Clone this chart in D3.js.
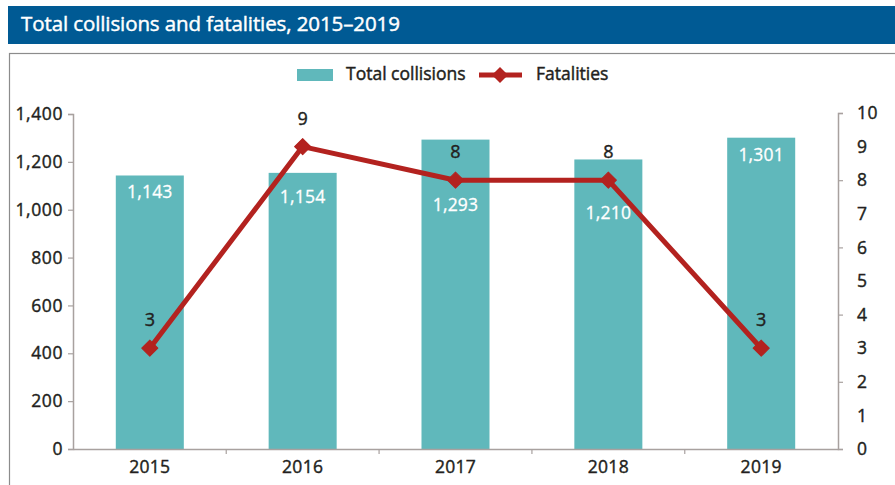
<!DOCTYPE html>
<html><head><meta charset="utf-8">
<script src="https://cdn.jsdelivr.net/npm/d3@7"></script>
<style>
html,body{margin:0;padding:0;background:#fff;}
svg{display:block;font-family:"Open Sans",sans-serif;}
</style></head>
<body><svg id="c" width="895" height="485"></svg>
<script>
const years = ["2015","2016","2017","2018","2019"];
const collisions = [1143,1154,1293,1210,1301];
const fatalities = [3,9,8,8,3];
const leftTicks = [0,200,400,600,800,1000,1200,1400];
const rightTicks = [0,1,2,3,4,5,6,7,8,9,10];
const title = "Total collisions and fatalities, 2015\u20132019";

const svg = d3.select("#c");
const teal = "#60b8bb", red = "#b3221f", ink = "#231f20", axisCol = "#a8a19f";

// title bar
svg.append("rect").attr("x",8).attr("y",6).attr("width",887).attr("height",38).attr("fill","#005a94");
svg.append("text").attr("x",21).attr("y",31).attr("fill","#fff").attr("font-size",20.5)
  .attr("stroke","#fff").attr("stroke-width",0.45).attr("letter-spacing",-0.1).text(title);
// frame
svg.append("rect").attr("x",9.5).attr("y",53.5).attr("width",900).attr("height",450)
  .attr("fill","none").attr("stroke","#8c8c8c").attr("stroke-width",1.2);

const x = d3.scaleBand().domain(years).range([73,838]).paddingInner(0.555).paddingOuter(0.28);
const yL = d3.scaleLinear().domain([0,1400]).range([449,114]);
const yR = d3.scaleLinear().domain([0,10]).range([449,113]);

// bars
svg.append("g").selectAll("rect").data(years).join("rect")
  .attr("x",d=>x(d)).attr("width",x.bandwidth())
  .attr("y",(d,i)=>yL(collisions[i])).attr("height",(d,i)=>yL(0)-yL(collisions[i]))
  .attr("fill",teal);

// axes
const gL = svg.append("g").attr("transform","translate(73,0)")
  .call(d3.axisLeft(yL).tickValues(leftTicks).tickSize(5).tickPadding(5).tickFormat(d3.format(",")));
const gR = svg.append("g").attr("transform","translate(838,0)")
  .call(d3.axisRight(yR).tickValues(rightTicks).tickSize(5).tickPadding(14).tickFormat(d3.format("d")));
const gX = svg.append("g").attr("transform","translate(0,449)")
  .call(d3.axisBottom(x).tickSize(0).tickPadding(12));
[gL,gR,gX].forEach(g=>{
  g.select(".domain").attr("stroke",axisCol).attr("stroke-width",1.5);
  g.selectAll(".tick line").attr("stroke",axisCol).attr("stroke-width",1.2);
  g.selectAll("text").attr("fill",ink).attr("font-size",17.5).attr("stroke",ink).attr("stroke-width",0.4)
    .attr("font-family","Open Sans, sans-serif").attr("letter-spacing",0.6);
});
gR.selectAll(".tick").filter(d=>d%2===1).select("line").remove();
gX.selectAll("text").attr("letter-spacing",0.3);
// category boundary ticks on x axis
const step = x.step();
svg.append("g").selectAll("line").data(years.slice(1)).join("line")
  .attr("x1",d=>x(d)-(step-x.bandwidth())/2).attr("x2",d=>x(d)-(step-x.bandwidth())/2)
  .attr("y1",449).attr("y2",454).attr("stroke",axisCol).attr("stroke-width",1.2);

// line
const cx = d=>x(d)+x.bandwidth()/2;
const line = d3.line().x((d,i)=>cx(years[i])).y(d=>yR(d));
svg.append("path").datum(fatalities).attr("d",line).attr("fill","none")
  .attr("stroke",red).attr("stroke-width",5).attr("stroke-linejoin","round");
svg.append("g").selectAll("path").data(fatalities).join("path")
  .attr("d",d3.symbol().type(d3.symbolSquare).size(130))
  .attr("transform",(d,i)=>`translate(${cx(years[i])},${yR(d)}) rotate(45)`)
  .attr("fill",red).attr("stroke",red).attr("stroke-width",1).attr("stroke-linejoin","round");

// fatality labels
svg.append("g").selectAll("text").data(fatalities).join("text")
  .attr("x",(d,i)=>cx(years[i])).attr("y",(d,i)=>yR(d)-22)
  .attr("text-anchor","middle").attr("font-size",18).attr("stroke",ink).attr("stroke-width",0.4)
  .attr("fill",ink).text(d=>d);

// collision value labels (offsets below bar top, avoiding the line)
const labelDy = [23,30,71,60,23];
svg.append("g").selectAll("text").data(collisions).join("text")
  .attr("x",(d,i)=>cx(years[i])).attr("y",(d,i)=>yL(d)+labelDy[i])
  .attr("text-anchor","middle").attr("font-size",17.5).attr("fill","#fff").attr("stroke","#fff").attr("stroke-width",0.3)
  .attr("letter-spacing",0.2).text(d=>d3.format(",")(d));

// legend
svg.append("rect").attr("x",297).attr("y",69).attr("width",36).attr("height",12).attr("fill",teal);
svg.append("text").attr("x",346).attr("y",80).attr("font-size",17.5).attr("stroke",ink).attr("stroke-width",0.45)
  .attr("fill",ink).attr("letter-spacing",0).text("Total collisions");
svg.append("line").attr("x1",479).attr("x2",522).attr("y1",75).attr("y2",75).attr("stroke",red).attr("stroke-width",5);
svg.append("path").attr("d",d3.symbol().type(d3.symbolSquare).size(130)).attr("transform","translate(500,75) rotate(45)").attr("fill",red);
svg.append("text").attr("x",536).attr("y",80).attr("font-size",17.5).attr("stroke",ink).attr("stroke-width",0.45)
  .attr("fill",ink).attr("letter-spacing",0).text("Fatalities");
</script></body></html>
